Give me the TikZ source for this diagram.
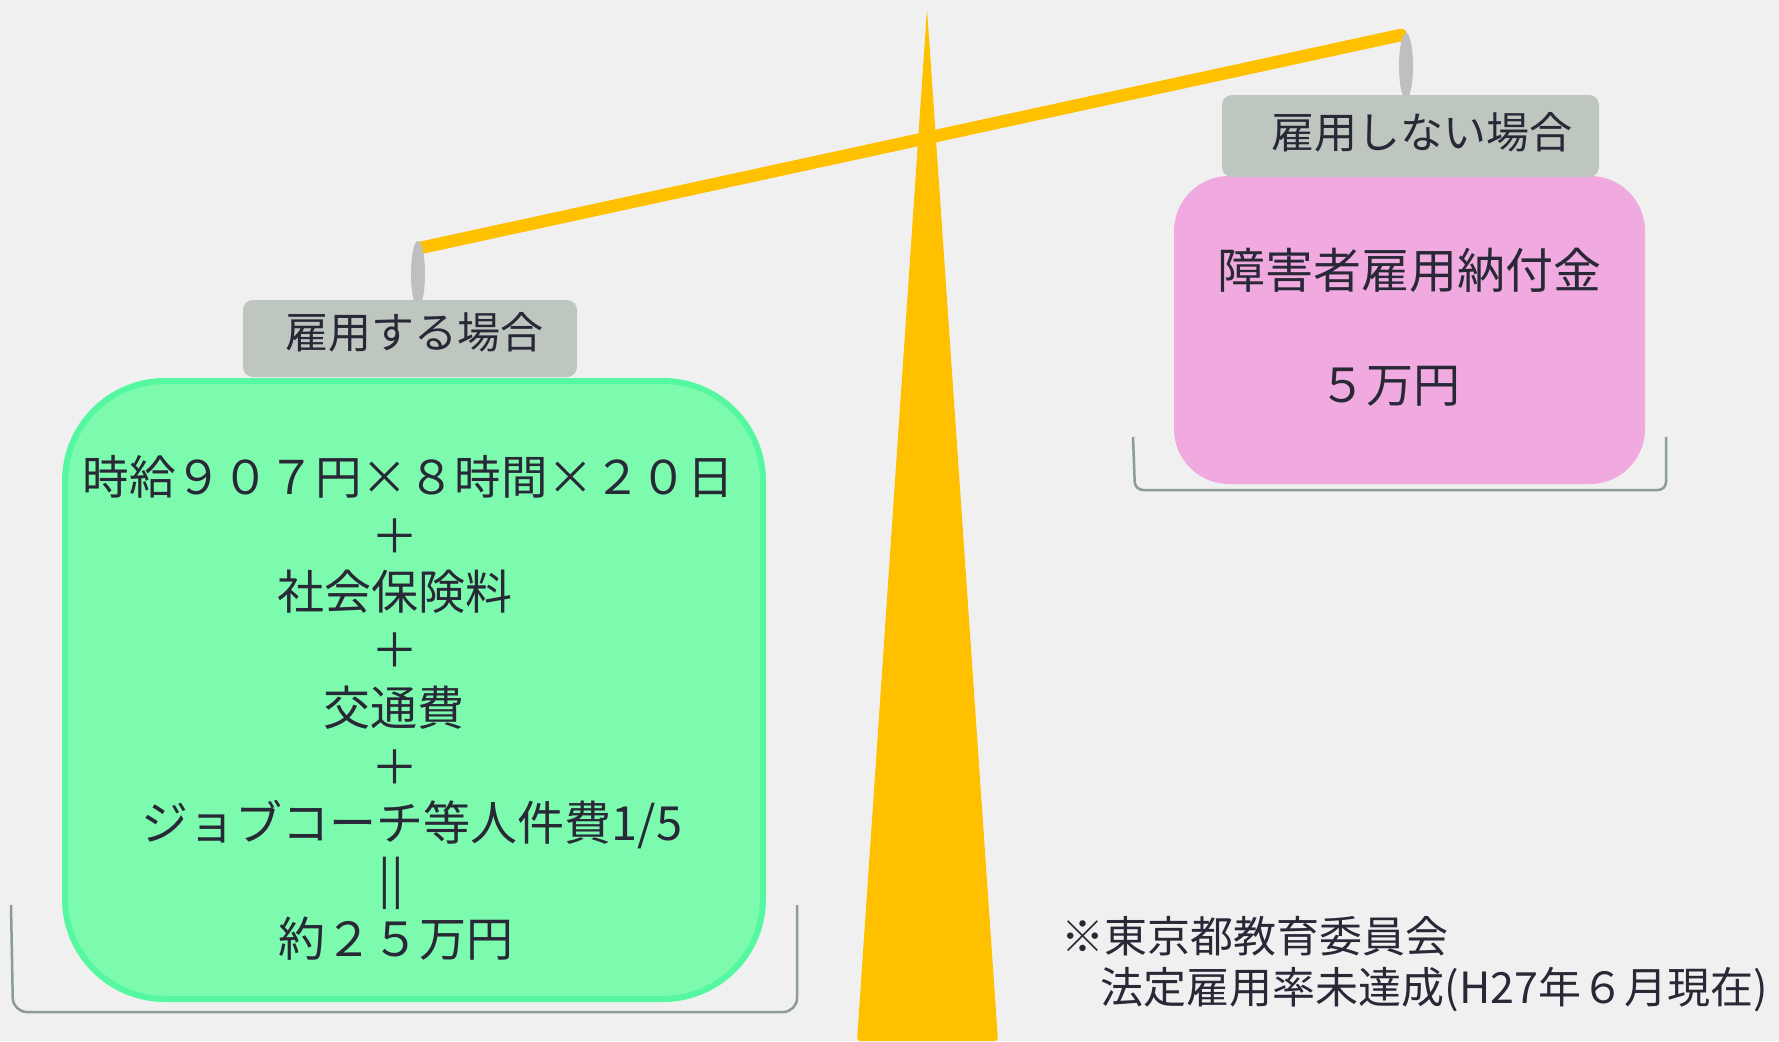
\documentclass[tikz,border=0pt]{standalone}
\usepackage{fontspec}
\setmainfont{Noto Sans CJK JP}
\definecolor{bgc}{HTML}{F0F0F0}
\definecolor{gold}{HTML}{FFC000}
\definecolor{hang}{HTML}{BFBFBF}
\definecolor{labelc}{HTML}{BEC6C0}
\definecolor{greenfill}{HTML}{7CFAAD}
\definecolor{greenline}{HTML}{55F8A0}
\definecolor{pinkfill}{HTML}{F1AAE0}
\definecolor{brk}{HTML}{8C9C94}
\definecolor{txt}{HTML}{282837}
\begin{document}
\begin{tikzpicture}[x=1pt,y=-1pt,
  labelbox/.style={fill=labelc, rounded corners=10pt, inner sep=0pt},
  greenbox/.style={fill=greenfill, draw=greenline, line width=6pt, rounded corners=100pt, inner sep=0pt},
  pinkbox/.style={fill=pinkfill, rounded corners=55pt, inner sep=0pt},
  bracketline/.style={draw=brk, line width=2.5pt, rounded corners=14pt},
  txtnode/.style={text=txt, inner sep=0pt},
  costline/.style={txtnode, font=\fontsize{47}{55}\selectfont}
]
\useasboundingbox (0,0) rectangle (1779,1041);
\fill[bgc] (0,0) rectangle (1779,1041);

% brackets (pans)
\coordinate (lbA) at (11,905);
\coordinate (lbB) at (13,1012);
\coordinate (lbC) at (797,1012);
\coordinate (lbD) at (797,905);
\draw[bracketline] (lbA) -- (lbB) -- (lbC) -- (lbD);
\coordinate (rbA) at (1133,437);
\coordinate (rbB) at (1135,490);
\coordinate (rbC) at (1666,490);
\coordinate (rbD) at (1666,437);
\draw[bracketline, rounded corners=8pt] (rbA) -- (rbB) -- (rbC) -- (rbD);

% fulcrum
\coordinate (apex) at (927,9);
\coordinate (baseR) at (998,1041);
\coordinate (baseL) at (857,1041);
\fill[gold, rounded corners=3pt] (apex) -- (baseR) -- (baseL) -- cycle;

% beam
\coordinate (beamL) at (420,248);
\coordinate (beamR) at (1401,35);
\draw[gold, line width=12.5pt, line cap=round] (beamL) -- (beamR);

% hangers
\fill[hang] (418,274) ellipse [x radius=7, y radius=33];
\fill[hang] (1406,66) ellipse [x radius=7, y radius=33];

% boxes
\node[greenbox, minimum width=698pt, minimum height=618pt] (costbox) at (414,690) {};
\node[pinkbox, minimum width=471pt, minimum height=308pt] (levybox) at (1409.5,330) {};
\node[labelbox, minimum width=334pt, minimum height=77pt] (employ) at (410,338.5) {};
\node[labelbox, minimum width=377pt, minimum height=82pt] (noemploy) at (1410.5,136) {};

% texts
\node[txtnode, font=\fontsize{43}{50}\selectfont] (employtxt) at (414,332) {雇用する場合};
\node[txtnode, font=\fontsize{43}{50}\selectfont] (noemploytxt) at (1422,132) {雇用しない場合};

\node[costline, font=\fontsize{46.5}{55}\selectfont] (c1) at (408,477) {時給９０７円×８時間×２０日};
\node[costline] (c2) at (395,536) {＋};
\node[costline] (c3) at (395,592) {社会保険料};
\node[costline] (c4) at (395,650) {＋};
\node[costline] (c5) at (394,708) {交通費};
\node[costline] (c6) at (395,767) {＋};
\node[costline] (c7) at (412,825) {ジョブコーチ等人件費1/5};
\node[costline] (c8) at (391,883) {||};
\node[costline] (c9) at (396,939) {約２５万円};

\node[txtnode, font=\fontsize{48}{55}\selectfont] (levytxt) at (1409,270) {障害者雇用納付金};
\node[txtnode, font=\fontsize{47}{55}\selectfont] (levyamt) at (1390,386) {５万円};
\node[txtnode, align=left, anchor=west, font=\fontsize{43}{51}\selectfont] (note) at (1061,964.5)
  {※東京都教育委員会\\\hspace*{0.92em}法定雇用率未達成(H27年６月現在)};
\end{tikzpicture}
\end{document}
